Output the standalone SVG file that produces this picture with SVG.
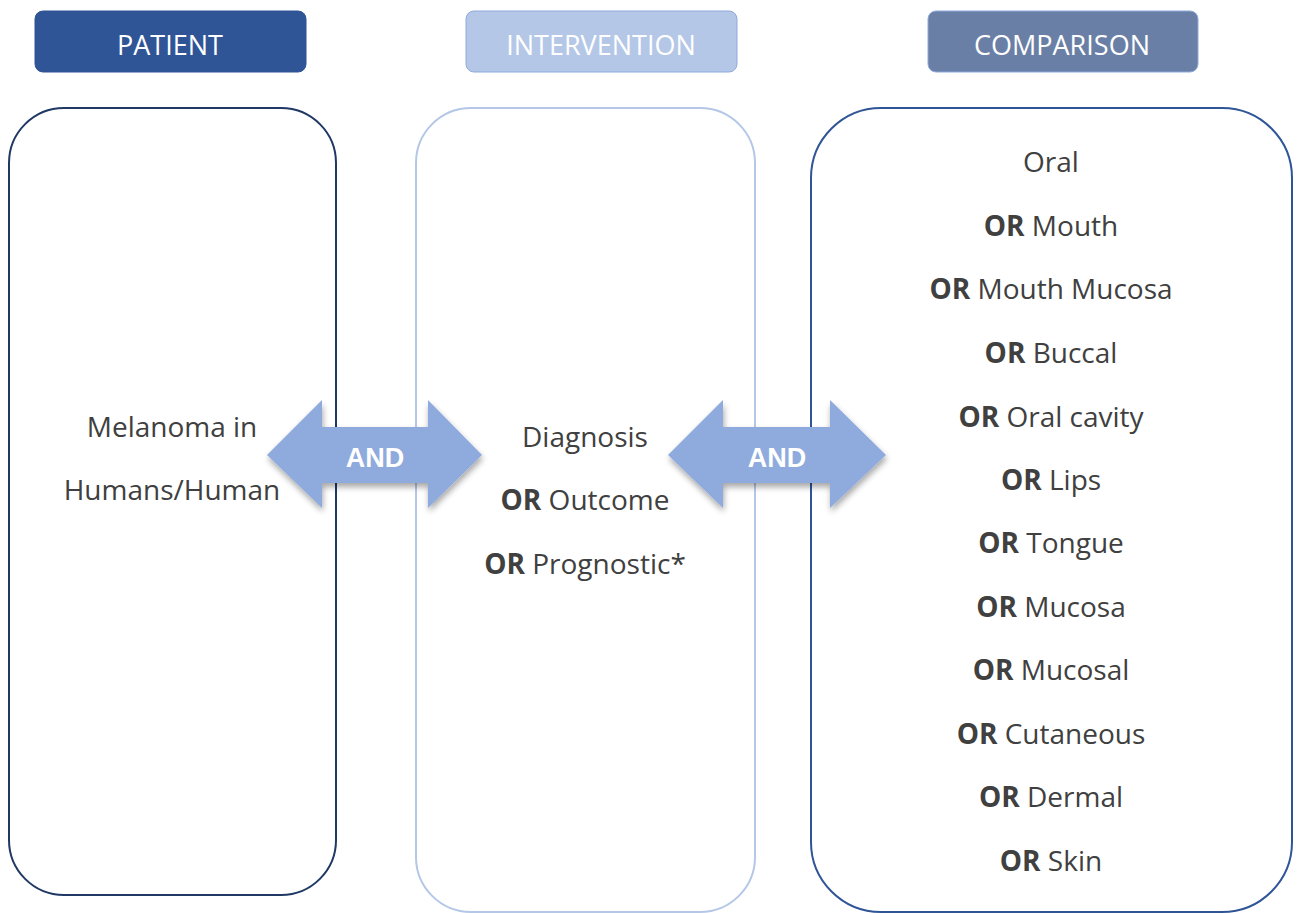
<svg xmlns="http://www.w3.org/2000/svg" width="1299" height="913" viewBox="0 0 1299 913">
<defs>
<style>
.hdr{font-family:"Open Sans","Liberation Sans",sans-serif;font-size:27px;fill:#ffffff;text-anchor:middle}
.t{font-family:"Open Sans","Liberation Sans",sans-serif;font-size:28px;fill:#404040;text-anchor:middle}
.t tspan.b{font-weight:bold}
.and{font-family:"Liberation Sans","Open Sans",sans-serif;font-size:27px;font-weight:bold;fill:#ffffff;text-anchor:middle}
.arrow{fill:#8FAADC;filter:url(#sh)}
</style>
<filter id="sh" x="-20%" y="-20%" width="140%" height="150%">
<feGaussianBlur in="SourceAlpha" stdDeviation="3"/>
<feOffset dx="1" dy="4" result="o"/>
<feComponentTransfer><feFuncA type="linear" slope="0.35"/></feComponentTransfer>
<feMerge><feMergeNode/><feMergeNode in="SourceGraphic"/></feMerge>
</filter>
</defs>
<rect width="1299" height="913" fill="#ffffff"/>
<g id="patient-header">
<rect x="35" y="11" width="271" height="61" rx="8" fill="#2F5597" stroke="#2F5597"/>
<text class="hdr" x="170" y="55">PATIENT</text>
</g>
<g id="intervention-header">
<rect x="466" y="11" width="271" height="61" rx="8" fill="#B4C7E7" stroke="#8FAADC"/>
<text class="hdr" x="601" y="55">INTERVENTION</text>
</g>
<g id="comparison-header">
<rect x="928" y="11" width="270" height="61" rx="8" fill="#6A7FA6" stroke="#8FAADC"/>
<text class="hdr" x="1062" y="55">COMPARISON</text>
</g>
<g id="patient-box">
<rect x="9" y="108" width="327" height="787" rx="55" fill="none" stroke="#1F3864" stroke-width="2"/>
<text class="t" x="172" y="437">Melanoma in</text>
<text class="t" x="172" y="500">Humans/Human</text>
</g>
<g id="intervention-box">
<rect x="416" y="108" width="339" height="804" rx="55" fill="none" stroke="#B4C7E7" stroke-width="2"/>
<text class="t" x="585" y="447">Diagnosis</text>
<text class="t" x="585" y="510"><tspan class="b">OR</tspan> Outcome</text>
<text class="t" x="585" y="574"><tspan class="b">OR</tspan> Prognostic*</text>
</g>
<g id="comparison-box">
<rect x="811" y="108" width="481" height="804" rx="70" fill="none" stroke="#2F5597" stroke-width="2"/>
<text class="t" x="1051" y="172">Oral</text>
<text class="t" x="1051" y="236"><tspan class="b">OR</tspan> Mouth</text>
<text class="t" x="1051" y="299"><tspan class="b">OR</tspan> Mouth Mucosa</text>
<text class="t" x="1051" y="363"><tspan class="b">OR</tspan> Buccal</text>
<text class="t" x="1051" y="427"><tspan class="b">OR</tspan> Oral cavity</text>
<text class="t" x="1051" y="490"><tspan class="b">OR</tspan> Lips</text>
<text class="t" x="1051" y="553"><tspan class="b">OR</tspan> Tongue</text>
<text class="t" x="1051" y="617"><tspan class="b">OR</tspan> Mucosa</text>
<text class="t" x="1051" y="680"><tspan class="b">OR</tspan> Mucosal</text>
<text class="t" x="1051" y="744"><tspan class="b">OR</tspan> Cutaneous</text>
<text class="t" x="1051" y="807"><tspan class="b">OR</tspan> Dermal</text>
<text class="t" x="1051" y="871"><tspan class="b">OR</tspan> Skin</text>
</g>
<g id="connectors">
<g id="and-arrow-1">
<polygon class="arrow" points="267,455 322,400 322,427 428,427 428,400 482,455 428,508 428,483 322,483 322,508"/>
<text class="and" x="375" y="467">AND</text>
</g>
<g id="and-arrow-2">
<polygon class="arrow" points="668,455 723,400 723,427 830,427 830,400 886,455 830,508 830,483 723,483 723,508"/>
<text class="and" x="777" y="467">AND</text>
</g>
</g>
</svg>
